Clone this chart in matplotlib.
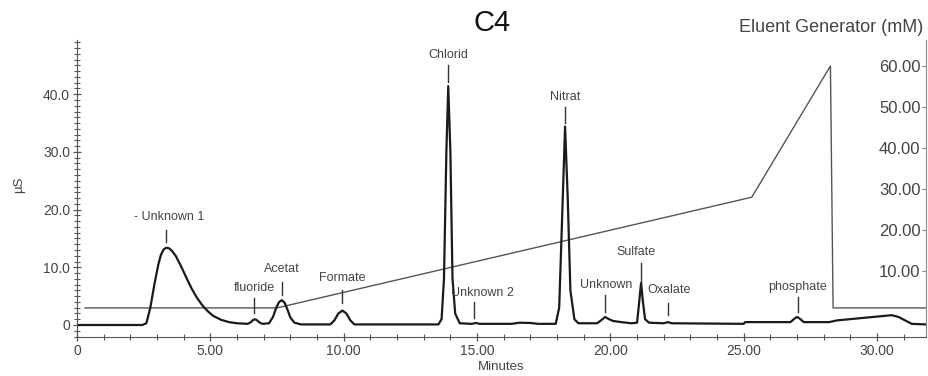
import matplotlib
matplotlib.use("Agg")
import matplotlib.pyplot as plt
from matplotlib.ticker import MultipleLocator, FixedLocator, FixedFormatter

plt.rcParams['font.family'] = ['Liberation Sans', 'DejaVu Sans']

# ---- data ----
signal_time = [0.0, 2.45, 2.6, 2.75, 2.9, 3.05, 3.15, 3.25, 3.35, 3.45, 3.55, 3.7, 3.9, 4.1,
               4.3, 4.5, 4.7, 4.9, 5.1, 5.4, 5.7, 6.0, 6.4, 6.52, 6.6, 6.67, 6.74, 6.82,
               6.95, 7.2, 7.35, 7.47, 7.58, 7.68, 7.78, 7.88, 8.0, 8.15, 8.4, 9.5, 9.65,
               9.8, 9.95, 10.1, 10.25, 10.4, 13.55, 13.67, 13.76, 13.85, 13.92, 14.0, 14.08,
               14.18, 14.35, 14.8, 14.95, 15.1, 16.3, 16.6, 17.0, 17.3, 17.95, 18.08, 18.2,
               18.3, 18.4, 18.5, 18.65, 18.8, 19.5, 19.65, 19.8, 19.95, 20.1, 20.4, 20.8,
               21.0, 21.08, 21.15, 21.22, 21.3, 21.45, 22.0, 22.15, 22.3, 25.0, 25.05,
               26.75, 26.9, 27.0, 27.1, 27.25, 28.2, 28.5, 30.55, 30.8, 31.3, 31.84]
signal_us = [0.0, 0.0, 0.3, 3.0, 7.0, 10.5, 12.2, 13.1, 13.4, 13.3, 12.9, 12.0, 10.2, 8.2,
             6.3, 4.7, 3.4, 2.4, 1.6, 0.9, 0.5, 0.3, 0.2, 0.5, 0.85, 1.0, 0.85, 0.5,
             0.2, 0.3, 1.4, 3.0, 4.0, 4.3, 3.9, 2.8, 1.3, 0.4, 0.1, 0.1, 0.8,
             2.0, 2.5, 2.0, 0.8, 0.1, 0.1, 1.0, 8.0, 30.0, 41.4, 30.0, 8.0,
             2.0, 0.3, 0.2, 0.35, 0.2, 0.2, 0.4, 0.35, 0.2, 0.2, 3.0, 20.0,
             34.4, 22.0, 6.0, 1.0, 0.3, 0.3, 0.8, 1.4, 1.0, 0.7, 0.5, 0.3,
             0.4, 4.0, 7.3, 4.0, 1.0, 0.4, 0.3, 0.5, 0.3, 0.2, 0.5,
             0.5, 1.1, 1.4, 1.1, 0.5, 0.5, 0.8, 1.7, 1.4, 0.2, 0.1]

eluent_time = [0.3, 7.5, 25.3, 28.25, 28.35, 31.84]
eluent_mm = [1.0, 1.0, 28.0, 60.0, 1.0, 1.0]

peak_names = ["- Unknown 1", "fluoride", "Acetat", "Formate", "Chlorid", "Unknown 2",
              "Nitrat", "Unknown", "Sulfate", "Oxalate", "phosphate"]
peak_time = [3.34, 6.64, 7.69, 9.94, 13.91, 14.9, 18.3, 19.8, 21.15, 22.16, 27.03]

x_major = [0, 5, 10, 15, 20, 25, 30]
x_labels = ["0", "5.00", "10.00", "15.00", "20.00", "25.00", "30.00"]
y_major = [0, 10, 20, 30, 40]
y_labels = ["0", "10.0", "20.0", "30.0", "40.0"]
y2_major = [10, 20, 30, 40, 50, 60]
y2_labels = ["10.00", "20.00", "30.00", "40.00", "50.00", "60.00"]

# ---- layout (label placement, µS units) ----
marker_lo = [14.4, 2.1, 5.2, 3.8, 42.1, 1.2, 35.0, 2.25, 7.3, 1.7, 2.25]
marker_hi = [16.5, 4.7, 7.45, 6.1, 45.1, 4.0, 37.8, 5.2, 10.7, 3.8, 4.85]
text_y = [18.7, 6.4, 9.7, 8.1, 46.8, 5.5, 39.5, 6.9, 12.7, 6.1, 6.6]
text_dx = [0.1, 0.0, 0.0, 0.0, 0.0, 0.3, 0.0, 0.05, -0.2, 0.05, 0.0]

W, H = 929, 376
fig = plt.figure(figsize=(W / 100, H / 100), dpi=100)
ax = fig.add_axes([77 / W, 1 - 337 / H, (926 - 77) / W, (337 - 40) / H])
ax2 = ax.twinx()
ax.set_zorder(ax2.get_zorder() + 1)
ax.patch.set_visible(False)

txt = '#444444'
spc = '#555555'

ax2.plot(eluent_time, eluent_mm, color='#555555', lw=1.0)
ax.plot(signal_time, signal_us, color='#1a1a1a', lw=1.6)

for name, t, lo, hi, ty, dx in zip(peak_names, peak_time, marker_lo, marker_hi, text_y, text_dx):
    ax.plot([t, t], [lo, hi], color='#333333', lw=1.0)
    ax.text(t + dx, ty, name, ha='center', va='center', fontsize=9, color=txt)

ax.set_xlim(0, 849 / 26.67)
ax.set_ylim((325 - 337) / 5.77, (325 - 40) / 5.77)
ax2.set_ylim((312 - 337) / 4.1, (312 - 40) / 4.1)

for s in ['top', 'right']:
    ax.spines[s].set_visible(False)
for s in ['top', 'left', 'bottom']:
    ax2.spines[s].set_visible(False)
for s in ['left', 'bottom']:
    ax.spines[s].set_color(spc)
ax2.spines['right'].set_color('#888888')

ax.xaxis.set_major_locator(FixedLocator(x_major))
ax.xaxis.set_major_formatter(FixedFormatter(x_labels))
ax.xaxis.set_minor_locator(MultipleLocator(1))
ax.yaxis.set_major_locator(FixedLocator(y_major))
ax.yaxis.set_major_formatter(FixedFormatter(y_labels))
ax.yaxis.set_minor_locator(MultipleLocator(1))
ax.tick_params(axis='both', which='major', direction='inout', length=6, width=0.9,
               colors=spc, labelcolor=txt, labelsize=10, pad=2)
ax.tick_params(axis='both', which='minor', direction='inout', length=4, width=0.8, colors=spc)

ax2.yaxis.set_major_locator(FixedLocator(y2_major))
ax2.yaxis.set_major_formatter(FixedFormatter(y2_labels))
ax2.tick_params(axis='y', which='major', direction='in', length=3, width=0.8,
                colors='#888888', labelcolor=txt, labelsize=12, pad=-4)
for lab in ax2.get_yticklabels():
    lab.set_horizontalalignment('right')

ax.set_xlabel("Minutes", fontsize=9.5, color=txt, labelpad=2)
fig.text(19 / W, 1 - 185 / H, "µS", rotation=90, ha='center', va='center', fontsize=9.5, color=txt)
fig.text(492 / W, 1 - 23 / H, "C4", ha='center', va='center', fontsize=21, color='#111111')
fig.text(923 / W, 1 - 27 / H, "Eluent Generator (mM)", ha='right', va='center', fontsize=13, color=txt)

fig.savefig("out.png", dpi=100)
